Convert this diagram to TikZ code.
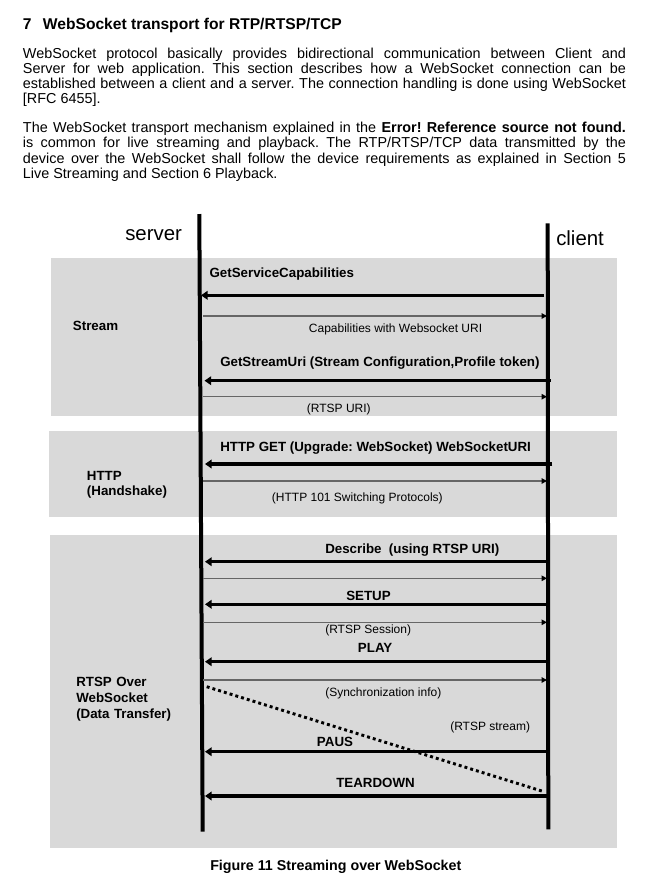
\documentclass[tikz,border=0pt]{standalone}
\usepackage{fontspec}
\setmainfont{Liberation Sans}
\usetikzlibrary{arrows.meta}
\hyphenpenalty=10000
\frenchspacing

\begin{document}
\begin{tikzpicture}[x=0.75pt,y=-0.75pt,
    phasebox/.style={fill=black!15},
    lifeline/.style={line width=3pt},
    request/.style={line width=2.5pt, -{Triangle[length=5pt,width=6.5pt]}},
    reply/.style={line width=1.1pt, black!60, -{Triangle[length=4pt,width=4pt,color=black]}},
    datastream/.style={line width=2.2pt, dash pattern=on 2.2pt off 2.3pt},
    msg/.style={inner sep=0pt, anchor=base west, font=\fontsize{10pt}{12pt}\selectfont\bfseries},
    note/.style={inner sep=0pt, anchor=base west, font=\fontsize{9pt}{11pt}\selectfont},
    party/.style={inner sep=0pt, anchor=base west, font=\fontsize{15.3pt}{18pt}\selectfont},
    phaselabel/.style={inner sep=0pt, anchor=base west, text width=120pt, align=left,
        font=\fontsize{10pt}{11.8pt}\selectfont\bfseries},
    para/.style={inner sep=0pt, anchor=base west, text width=452.25pt, align=justify,
        font=\fontsize{10.8pt}{11.4pt}\selectfont}
]

    \useasboundingbox (0,0) rectangle (657,876);

    % Section heading and text
    \node[inner sep=0pt, anchor=base west, font=\fontsize{11.7pt}{14pt}\selectfont\bfseries]
        (title) at (22.7,29.3) {7\hspace{8.5pt}WebSocket transport for RTP/RTSP/TCP};
    \node[para] (intro) at (22.7,58.3) {WebSocket protocol basically provides bidirectional communication between Client and\linebreak
        Server for web application. This section describes how a WebSocket connection can be\linebreak
        established between a client and a server. The connection handling is done using WebSocket\linebreak\relax
        [RFC 6455].};
    \node[para] (common) at (22.7,132.7) {The WebSocket transport mechanism explained in the \textbf{Error! Reference source not found.}\linebreak
        is common for live streaming and playback. The RTP/RTSP/TCP data transmitted by the\linebreak
        device over the WebSocket shall follow the device requirements as explained in Section 5\linebreak
        Live Streaming and Section 6 Playback.};

    % Phases
    \fill[phasebox] (51,258) rectangle (617,416);
    \fill[phasebox] (49,431) rectangle (617,516.7);
    \fill[phasebox] (50,534.5) rectangle (617,848);
    \node[phaselabel] (stream) at (72.7,330.7) {Stream};
    \node[phaselabel] (http) at (86.7,480) {HTTP\\(Handshake)};
    \node[phaselabel] (rtsp) at (76,686.7) {RTSP Over\\WebSocket\\(Data Transfer)};

    % Lifelines
    \node[party] (server) at (125,240.7) {server};
    \node[party] (client) at (556,245) {client};
    \coordinate (srvtop) at (199.3,214);
    \coordinate (srvbot) at (202.7,831.7);
    \coordinate (clitop) at (547.7,223.3);
    \coordinate (clibot) at (548.3,829.3);
    \draw[lifeline] (srvtop) -- (srvbot);
    \draw[lifeline] (clitop) -- (clibot);

    % Stream
    \node[msg] (getcap) at (209.3,277.3) {GetServiceCapabilities};
    \coordinate (getcap-c) at (544,295.3);
    \coordinate (getcap-s) at (201,295.3);
    \draw[request] (getcap-c) -- (getcap-s);
    \node[note] (caps) at (308.7,332.3) {Capabilities with Websocket URI};
    \coordinate (caps-s) at (203,316);
    \coordinate (caps-c) at (547,316);
    \draw[reply] (caps-s) -- (caps-c);
    \node[msg] (geturi) at (220,366.7) {GetStreamUri (Stream Configuration,Profile token)};
    \coordinate (geturi-c) at (550.7,380.7);
    \coordinate (geturi-s) at (204.5,380.7);
    \draw[request] (geturi-c) -- (geturi-s);
    \node[note] (uri) at (306.7,412) {(RTSP URI)};
    \coordinate (uri-s) at (203,396.7);
    \coordinate (uri-c) at (547,396.7);
    \draw[reply] (uri-s) -- (uri-c);

    % HTTP
    \node[msg] (upgrade) at (220,451.7) {HTTP GET (Upgrade: WebSocket) WebSocketURI};
    \coordinate (upgrade-c) at (552.3,464);
    \coordinate (upgrade-s) at (205,464);
    \draw[request] (upgrade-c) -- (upgrade-s);
    \node[note] (switch) at (271.7,501.7) {(HTTP 101 Switching Protocols)};
    \coordinate (switch-s) at (203,481);
    \coordinate (switch-c) at (547,481);
    \draw[reply] (switch-s) -- (switch-c);

    % RTSP
    \node[msg] (describe) at (325,553.3) {Describe~ (using RTSP URI)};
    \coordinate (describe-c) at (548,561.7);
    \coordinate (describe-s) at (205,561.7);
    \draw[request] (describe-c) -- (describe-s);
    \coordinate (sdp-s) at (203,578.3);
    \coordinate (sdp-c) at (547,578.3);
    \draw[reply] (sdp-s) -- (sdp-c);
    \node[msg] (setup) at (346,600) {SETUP};
    \coordinate (setup-c) at (548,604.3);
    \coordinate (setup-s) at (205,604.3);
    \draw[request] (setup-c) -- (setup-s);
    \node[note] (session) at (325,633.3) {(RTSP Session)};
    \coordinate (session-s) at (203,622.3);
    \coordinate (session-c) at (547,622.3);
    \draw[reply] (session-s) -- (session-c);
    \node[msg] (play) at (357.7,652.7) {PLAY};
    \coordinate (play-c) at (548,661.7);
    \coordinate (play-s) at (205,661.7);
    \draw[request] (play-c) -- (play-s);
    \node[note] (sync) at (325,696.7) {(Synchronization info)};
    \coordinate (sync-s) at (203,680);
    \coordinate (sync-c) at (547,680);
    \draw[reply] (sync-s) -- (sync-c);
    \node[note] (rtspdata) at (450,730.7) {(RTSP stream)};
    \coordinate (data-s) at (206.7,686.7);
    \coordinate (data-c) at (544,791.7);
    \draw[datastream] (data-s) -- (data-c);
    \node[msg] (paus) at (316.7,746.7) {PAUS};
    \coordinate (paus-c) at (548,751.7);
    \coordinate (paus-s) at (205,751.7);
    \draw[request] (paus-c) -- (paus-s);
    \node[msg] (teardown) at (336,787.7) {TEARDOWN};
    \coordinate (teardown-c) at (548,796);
    \coordinate (teardown-s) at (205,796);
    \draw[request] (teardown-c) -- (teardown-s);

    % Caption
    \node[inner sep=0pt, anchor=base west, font=\fontsize{10.7pt}{13pt}\selectfont\bfseries]
        (caption) at (210,870.7) {Figure 11 Streaming over WebSocket};

\end{tikzpicture}
\end{document}
